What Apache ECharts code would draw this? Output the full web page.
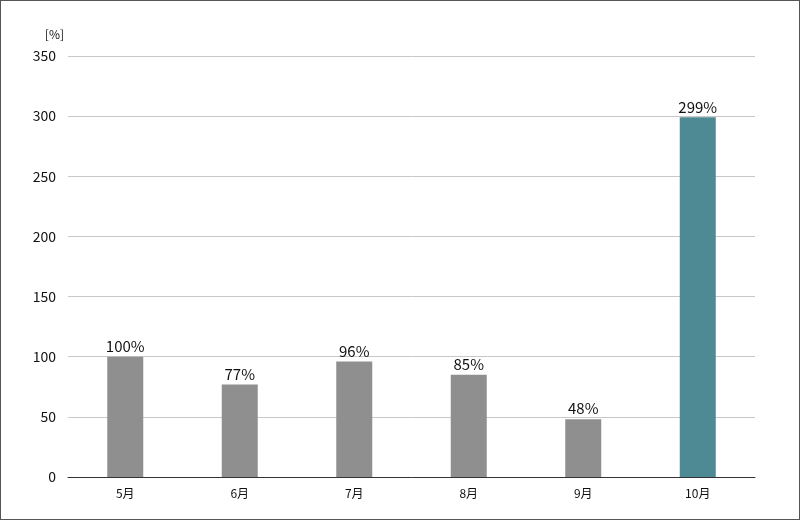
<!DOCTYPE html>
<html><head><meta charset="utf-8">
<script src="https://cdn.jsdelivr.net/npm/echarts@6/dist/echarts.min.js"></script>
<style>html,body{margin:0;padding:0;background:#fff}#c{width:798px;height:518px;border:1px solid #555}</style>
</head><body><div id="c"></div>
<script>
var months = ['5月', '6月', '7月', '8月', '9月', '10月'];
var values = [100, 77, 96, 85, 48, 299];
var yTicks = [0, 50, 100, 150, 200, 250, 300, 350];

var chart = echarts.init(document.getElementById('c'));
chart.setOption({
  animation: false,
  textStyle: { fontFamily: 'Noto Sans CJK JP, sans-serif' },
  grid: { left: 67, right: 44, top: 55, bottom: 42 },
  xAxis: {
    type: 'category', data: months,
    axisLine: { lineStyle: { color: '#333' } },
    axisTick: { show: false },
    axisLabel: { color: '#111', fontSize: 12, margin: 10 }
  },
  yAxis: {
    type: 'value', min: 0, max: yTicks[yTicks.length - 1], interval: 50,
    name: '[%]', nameLocation: 'end', nameGap: 16,
    nameTextStyle: { color: '#111', fontSize: 12, align: 'right', padding: [0, 4, 0, 0] },
    axisLine: { show: false }, axisTick: { show: false },
    axisLabel: { color: '#111', fontSize: 14, margin: 12 },
    splitLine: { lineStyle: { color: '#c8c8c8' } }
  },
  series: [{
    type: 'bar', barWidth: 36,
    data: values.map(function (v, i) {
      return { value: v, itemStyle: { color: i === values.length - 1 ? '#4e8a93' : '#8f8f8f' } };
    }),
    label: { show: true, position: 'top', distance: 3, formatter: '{c}%', color: '#111', fontSize: 15 }
  }]
});
</script></body></html>
